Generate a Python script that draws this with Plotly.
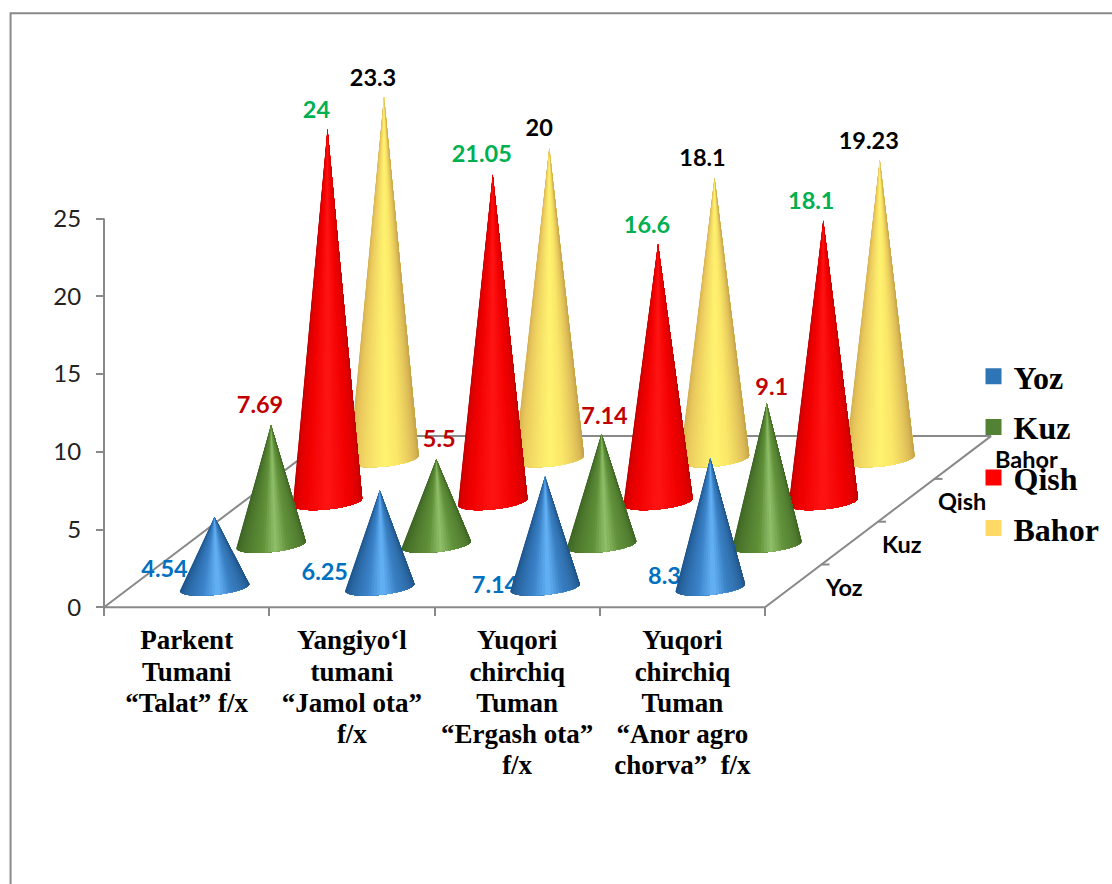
import math
import plotly.graph_objects as go

# ---- chart data ----
categories = [
    ["Parkent", "Tumani", "“Talat” f/x"],
    ["Yangiyo‘l", "tumani", "“Jamol ota”", "f/x"],
    ["Yuqori", "chirchiq", "Tuman", "“Ergash ota”", "f/x"],
    ["Yuqori", "chirchiq", "Tuman", "“Anor agro", "chorva”  f/x"],
]
seasons = ["Yoz", "Kuz", "Qish", "Bahor"]
yoz = [4.54, 6.25, 7.14, 8.33]
kuz = [7.69, 5.5, 7.14, 9.1]
qish = [24, 21.05, 16.6, 18.1]
bahor = [23.3, 20, 18.1, 19.23]
y_ticks = [0, 5, 10, 15, 20, 25]

# ---- drawing style ----
W, H = 1112, 884
PX_X, PX_Y = 165.25, 15.55          # pixels per category / per value unit
ORIGIN_X, ORIGIN_Y = 104, 607.3     # pixel position of the axes' corner
STEP_X, STEP_Y = 56.5 / PX_X, 42.8 / PX_Y   # oblique depth step per season row
FIRST_X, FIRST_Y = 110.5 / PX_X, 19.8 / PX_Y  # first cone base relative to corner
RX, RY, TILT = 34.7 / PX_X, 7.5 / PX_Y, 3.5 / PX_Y
AXIS = "#898989"
STRIPS = 36

RAMPS = {
    "Yoz": [(0, "#1b4f85"), (0.2, "#2a68a5"), (0.38, "#3a82c8"), (0.53, "#66b3f7"),
            (0.66, "#3a80c4"), (0.85, "#2a66a0"), (1, "#1c4e80")],
    "Kuz": [(0, "#3a5f22"), (0.25, "#4e7a2e"), (0.42, "#5f9038"), (0.54, "#90bf6a"),
            (0.66, "#62923c"), (0.85, "#4e7a2e"), (1, "#3a5f22")],
    "Qish": [(0, "#b00000"), (0.12, "#d80000"), (0.3, "#f20000"), (0.5, "#ff1414"),
             (0.7, "#f20000"), (0.88, "#d80000"), (1, "#b00000")],
    "Bahor": [(0, "#cdaa4c"), (0.2, "#e9c75c"), (0.5, "#fff370"), (0.62, "#fbe768"),
              (0.85, "#d9b755"), (1, "#bd9b45")],
}
SWATCHES = {"Yoz": "#2e75b6", "Kuz": "#548235", "Qish": "#ff0000", "Bahor": "#ffd966"}
LABEL_COLORS = {"Yoz": "#0070c0", "Kuz": "#c00000", "Qish": "#00b050", "Bahor": "#000000"}

# Data labels sit at a hand-picked offset from each cone's apex (pixels right, pixels down).
LABEL_OFFSETS = {
    "Yoz": [(-50, 54), (-55, 84), (-50, 111), (-39, 120)],
    "Kuz": [(-11, -18), (3, -18), (3, -16), (5, -14)],
    "Qish": [(-11, -17), (-11, -18), (-11, -17), (-12, -17)],
    "Bahor": [(-11, -17), (-10, -18), (-12, -18), (-11, -17)],
}
values = {"Yoz": yoz, "Kuz": kuz, "Qish": qish, "Bahor": bahor}


def hex_rgb(c):
    return tuple(int(c[i:i + 2], 16) for i in (1, 3, 5))


def ramp_color(ramp, t):
    for (t0, c0), (t1, c1) in zip(ramp, ramp[1:]):
        if t <= t1:
            f = (t - t0) / (t1 - t0)
            a, b = hex_rgb(c0), hex_rgb(c1)
            return "rgb(%d,%d,%d)" % tuple(round(p + (q - p) * f) for p, q in zip(a, b))
    return ramp[-1][1]


def base_point(cx, cy, u):
    """Point on the tilted base ellipse; u runs 0..1 along its front arc, left to right."""
    th = math.pi * (1 - u)
    return cx + RX * math.cos(th), cy - RY * math.sin(th) + TILT * math.cos(th)


def tick_text(lines):
    # Glyphs are sized up inside the span so the row spacing stays that of the 24px tick font.
    return "<br>".join('<span style="font-size:27px">%s</span>' % t for t in lines)


fig = go.Figure()


def line(xs, ys):
    fig.add_trace(go.Scatter(x=xs, y=ys, mode="lines", line=dict(color=AXIS, width=2),
                             hoverinfo="skip", showlegend=False))


# Floor outline and value axis
n_cat, n_row = len(categories), len(seasons)
back_x, back_y = STEP_X * n_row, STEP_Y * n_row
line([0, back_x, n_cat + back_x, n_cat, 0], [0, back_y, back_y, 0, 0])
line([0, 0], [0, y_ticks[-1]])
for r in range(1, n_row):
    px, py = n_cat + STEP_X * r, STEP_Y * r
    line([px, px + 8 / PX_X], [py, py])

# Value labels go underneath the cones
for r, s in enumerate(seasons):
    xs, ys = [], []
    for c, v in enumerate(values[s]):
        ax = FIRST_X + c + STEP_X * r
        ay = FIRST_Y + STEP_Y * r + v
        dx, dy = LABEL_OFFSETS[s][c]
        xs.append(ax + dx / PX_X)
        ys.append(ay - dy / PX_Y)
    fig.add_trace(go.Scatter(
        x=xs, y=ys, mode="text", text=[str(v) for v in values[s]],
        textposition="middle center",
        textfont=dict(family="Lato", size=23.5, color=LABEL_COLORS[s], weight=700),
        hoverinfo="skip", showlegend=False))

# Cones, painted from the back row forward. Each shade covers everything from its
# left boundary to the cone's right edge, so neighbouring shades leave no seams.
for r in reversed(range(n_row)):
    s = seasons[r]
    for c, v in enumerate(values[s]):
        cx = FIRST_X + c + STEP_X * r
        cy = FIRST_Y + STEP_Y * r
        for k in range(STRIPS):
            arc = [base_point(cx, cy, j / STRIPS) for j in range(k, STRIPS + 1)]
            colour = ramp_color(RAMPS[s], (k + 0.5) / STRIPS)
            fig.add_trace(go.Scatter(
                x=[cx] + [p[0] for p in arc] + [cx],
                y=[cy + v] + [p[1] for p in arc] + [cy + v],
                mode="none", fill="toself", fillcolor=colour,
                hoverinfo="skip", showlegend=False))

# Legend entries
for s in seasons:
    fig.add_trace(go.Scatter(
        x=[None], y=[None], mode="markers", name=s, legendgroup=s,
        marker=dict(symbol="square", size=16, color=SWATCHES[s])))

# Season names along the depth axis
annotations = []
for r, s in enumerate(seasons):
    annotations.append(dict(
        x=n_cat + STEP_X * (r + 0.5) + 30 / PX_X, y=STEP_Y * (r + 0.5) - 1 / PX_Y, text="<b>%s</b>" % s,
        xref="x", yref="y", xanchor="left", yanchor="middle", showarrow=False,
        font=dict(family="Lato", size=23.5, color="#000000")))

fig.update_layout(
    width=W, height=H, margin=dict(l=0, r=0, t=0, b=0),
    paper_bgcolor="white", plot_bgcolor="white",
    annotations=annotations,
    shapes=[dict(type="path", path="M 0.0095,0 L 0.0095,0.985 L 1,0.985",
                 xref="paper", yref="paper", line=dict(color="#8a8a8a", width=2), layer="below")],
    legend=dict(x=973.5 / W, y=1 - 349 / H, xanchor="left", yanchor="top",
                bgcolor="rgba(0,0,0,0)", tracegroupgap=6, itemclick=False, itemdoubleclick=False,
                font=dict(family="Liberation Serif", size=32, color="#000000", weight=700)),
    xaxis=dict(
        range=[-ORIGIN_X / PX_X, (W - ORIGIN_X) / PX_X], domain=[0, 1],
        anchor="free", position=1 - ORIGIN_Y / H,
        tickmode="array", tickvals=[i + 0.5 for i in range(n_cat)],
        ticktext=[tick_text(c) for c in categories],
        ticks="", tickangle=0, showgrid=False, zeroline=False, showline=False, ticklabelstandoff=17,
        tickfont=dict(family="Liberation Serif", size=24, color="#000000", weight=700),
        minor=dict(tickmode="array", tickvals=list(range(n_cat + 1)), ticks="outside",
                   ticklen=8, tickcolor=AXIS, tickwidth=2, showgrid=False),
    ),
    yaxis=dict(
        range=[(ORIGIN_Y - H) / PX_Y, ORIGIN_Y / PX_Y], domain=[0, 1],
        anchor="free", position=ORIGIN_X / W,
        tickmode="array", tickvals=y_ticks, ticks="outside", ticklen=8, tickcolor=AXIS, tickwidth=2,
        showgrid=False, zeroline=False, showline=False, ticklabelstandoff=10,
        tickfont=dict(family="Lato", size=24, color="#222222"),
    ),
)

fig.write_html("out.html")
